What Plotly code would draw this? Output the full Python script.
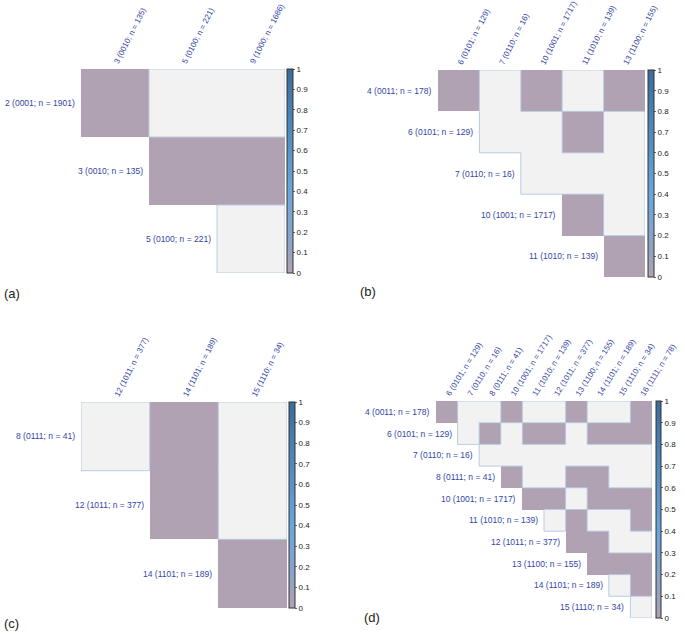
import plotly.graph_objects as go

W, H = 685, 635

# ---------------- data ----------------
# status codes: "P" = significant (value 0, purple), "G" = not significant (light grey), "." = empty
a_rows = ["2 (0001; n = 1901)", "3 (0010; n = 135)", "5 (0100; n = 221)"]
a_cols = ["3 (0010; n = 135)", "5 (0100; n = 221)", "9 (1000; n = 1686)"]
a_status = ["PGG",
            ".PP",
            "..G"]

b_rows = ["4 (0011; n = 178)", "6 (0101; n = 129)", "7 (0110; n = 16)",
          "10 (1001; n = 1717)", "11 (1010; n = 139)"]
b_cols = ["6 (0101; n = 129)", "7 (0110; n = 16)", "10 (1001; n = 1717)",
          "11 (1010; n = 139)", "13 (1100; n = 155)"]
b_status = ["PGPGP",
            ".GGPG",
            "..GGG",
            "...PG",
            "....P"]

c_rows = ["8 (0111; n = 41)", "12 (1011; n = 377)", "14 (1101; n = 189)"]
c_cols = ["12 (1011; n = 377)", "14 (1101; n = 189)", "15 (1110; n = 34)"]
c_status = ["GPG",
            ".PG",
            "..P"]

d_rows = ["4 (0011; n = 178)", "6 (0101; n = 129)", "7 (0110; n = 16)",
          "8 (0111; n = 41)", "10 (1001; n = 1717)", "11 (1010; n = 139)",
          "12 (1011; n = 377)", "13 (1100; n = 155)", "14 (1101; n = 189)",
          "15 (1110; n = 34)"]
d_cols = ["6 (0101; n = 129)", "7 (0110; n = 16)", "8 (0111; n = 41)",
          "10 (1001; n = 1717)", "11 (1010; n = 139)", "12 (1011; n = 377)",
          "13 (1100; n = 155)", "14 (1101; n = 189)", "15 (1110; n = 34)",
          "16 (1111; n = 78)"]
d_status = ["PGGPGGPGGP",
            ".GPGPPGPPP",
            "..GGGGGGGG",
            "...PGGPPGG",
            "....PPGPPP",
            ".....GPGGP",
            "......PPGG",
            ".......PPP",
            "........GP",
            ".........G"]

panel_tags = ["(a)", "(b)", "(c)", "(d)"]
cbar_ticks = [0, 0.1, 0.2, 0.3, 0.4, 0.5, 0.6, 0.7, 0.8, 0.9, 1]

# ---------------- style ----------------
GREY = "#f2f2f2"
EDGE = "#b9cce3"
LABEL = "#3346a8"
FONT = "Liberation Sans"
ROW_SIZE = 8.5
COL_SIZE = 8
colorscale = [[0.0, "#b0a2b3"], [0.15, "#8ea3c4"], [0.4, "#6aa6de"], [1.0, "#3a6c9c"]]

# pixel layout of each panel: heatmap box (x0, x1, y0, y1), colorbar x, thickness, tick angle, tag position
panels = [
    dict(rows=a_rows, cols=a_cols, st=a_status, box=(81, 285, 69, 273), cbx=287, cbt=6, ang=-63, tag=(2, 293)),
    dict(rows=b_rows, cols=b_cols, st=b_status, box=(438, 645, 70, 277), cbx=648, cbt=6, ang=-63, tag=(358, 292)),
    dict(rows=c_rows, cols=c_cols, st=c_status, box=(81, 287, 402, 608), cbx=289, cbt=6, ang=-63, tag=(2, 623)),
    dict(rows=d_rows, cols=d_cols, st=d_status, box=(436, 652, 401, 618), cbx=656, cbt=5, ang=-58, tag=(362, 617)),
]

fig = go.Figure()
layout = dict(width=W, height=H, margin=dict(l=0, r=0, t=0, b=0, autoexpand=False),
              plot_bgcolor="white", paper_bgcolor="white",
              showlegend=False, font=dict(family=FONT, size=8, color="#222"))
annotations = []

for i, p in enumerate(panels, start=1):
    xa = "x" if i == 1 else f"x{i}"
    ya = "y" if i == 1 else f"y{i}"
    nr, nc = len(p["rows"]), len(p["cols"])
    st = p["st"]
    zp = [[0 if st[r][c] == "P" else None for c in range(nc)] for r in range(nr)]
    zg = [[1 if st[r][c] == "G" else None for c in range(nc)] for r in range(nr)]
    xs = list(range(nc))
    ys = list(range(nr))

    fig.add_trace(go.Heatmap(z=zg, x=xs, y=ys, xaxis=xa, yaxis=ya,
                             colorscale=[[0, GREY], [1, GREY]], showscale=False,
                             hoverinfo="skip"))
    x0, x1, y0, y1 = p["box"]
    fig.add_trace(go.Heatmap(
        z=zp, x=xs, y=ys, xaxis=xa, yaxis=ya, zmin=0, zmax=1,
        colorscale=colorscale, showscale=True,
        colorbar=dict(x=p["cbx"] / W, xanchor="left", xpad=0, ypad=0,
                      y=1 - (y0 + y1) / 2 / H, yanchor="middle",
                      lenmode="pixels", len=(y1 - y0), thickness=p["cbt"],
                      outlinewidth=1, outlinecolor="#333",
                      tickvals=cbar_ticks, ticktext=[f"{t:g}" for t in cbar_ticks],
                      ticks="outside", ticklen=2, tickcolor="#666",
                      tickfont=dict(family=FONT, size=8, color="#222"))))

    # outline segments around grey regions
    ex, ey = [], []
    for r in range(nr):
        for c in range(nc):
            if st[r][c] != "G":
                continue
            def isg(rr, cc):
                return 0 <= rr < nr and 0 <= cc < nc and st[rr][cc] == "G"
            if not isg(r - 1, c):
                ex += [c - 0.5, c + 0.5, None]; ey += [r - 0.5, r - 0.5, None]
            if not isg(r + 1, c):
                ex += [c - 0.5, c + 0.5, None]; ey += [r + 0.5, r + 0.5, None]
            if not isg(r, c - 1):
                ex += [c - 0.5, c - 0.5, None]; ey += [r - 0.5, r + 0.5, None]
            if not isg(r, c + 1):
                ex += [c + 0.5, c + 0.5, None]; ey += [r - 0.5, r + 0.5, None]
    fig.add_trace(go.Scatter(x=ex, y=ey, xaxis=xa, yaxis=ya, mode="lines",
                             line=dict(color=EDGE, width=1), hoverinfo="skip",
                             cliponaxis=False))

    layout["xaxis" if i == 1 else f"xaxis{i}"] = dict(
        domain=[x0 / W, x1 / W], anchor=ya, side="top",
        range=[-0.5, nc - 0.5], tickvals=xs, ticktext=p["cols"],
        tickangle=p["ang"], showgrid=False, zeroline=False, showline=False,
        ticks="", tickfont=dict(family=FONT, size=COL_SIZE, color=LABEL))
    layout["yaxis" if i == 1 else f"yaxis{i}"] = dict(
        domain=[1 - y1 / H, 1 - y0 / H], anchor=xa,
        range=[nr - 0.5, -0.5], showticklabels=False, showgrid=False,
        zeroline=False, showline=False, ticks="")

    # row labels next to first non-empty cell of each row
    for r in range(nr):
        first = next(c for c in range(nc) if st[r][c] != ".")
        annotations.append(dict(x=first - 0.5, y=r, xref=xa, yref=ya,
                                text=p["rows"][r], showarrow=False,
                                xanchor="right", yanchor="middle", xshift=-4,
                                font=dict(family=FONT, size=ROW_SIZE, color=LABEL)))
    tx, ty = p["tag"]
    annotations.append(dict(x=tx / W, y=1 - ty / H, xref="paper", yref="paper",
                            text=panel_tags[i - 1], showarrow=False,
                            xanchor="left", yanchor="middle",
                            font=dict(family=FONT, size=13, color="#222")))

layout["annotations"] = annotations
fig.update_layout(**layout)
fig.write_html("out.html", config={"displayModeBar": False},
               post_script="document.body.style.margin='0';document.body.style.overflow='hidden';")
